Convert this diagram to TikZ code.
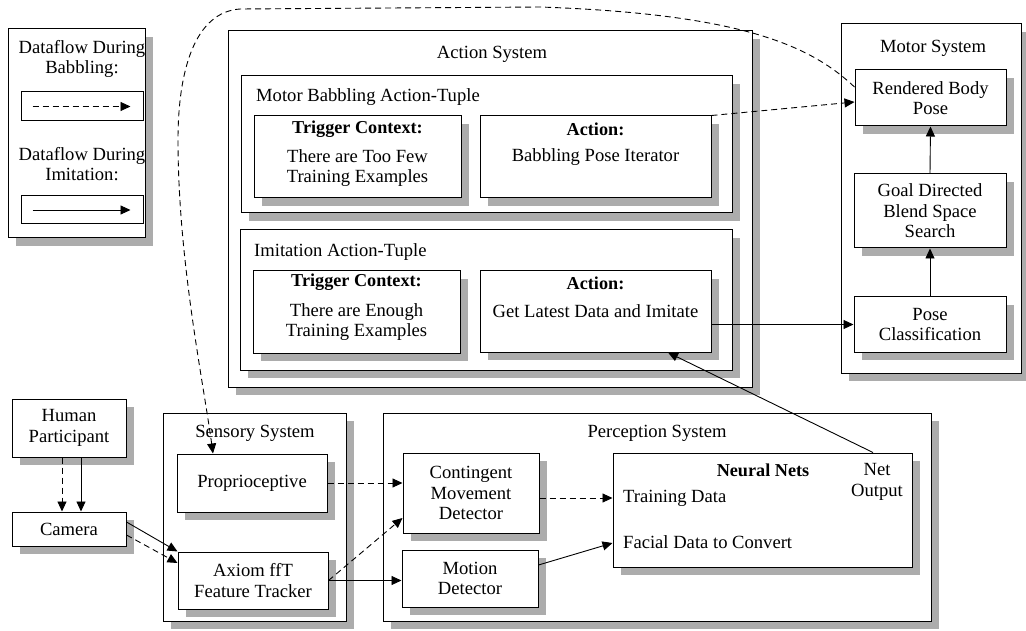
\documentclass[tikz,border=0pt]{standalone}
\usepackage{fontspec}
\setmainfont{Liberation Serif}
\usetikzlibrary{arrows.meta}
\definecolor{shadowgrey}{RGB}{172,172,172}
% a framed box with a flat grey drop shadow: name, cx, cy, width, height, text
\newcommand{\shbox}[6]{%
  \fill[shadowc] ({#2-#4/2+8},{#3-#5/2+8}) rectangle ({#2+#4/2+8},{#3+#5/2+8});
  \node[plainbox, minimum width=#4pt, minimum height=#5pt] (#1) at (#2,#3) {#6};}
\begin{document}
\begin{tikzpicture}[x=1pt,y=-1pt,
  font=\fontsize{18.6}{20.5}\selectfont,
  plainbox/.style={draw, fill=white, line width=1pt, inner sep=0pt, align=center},
  shadowc/.style={fill=shadowgrey},
  lbl/.style={inner sep=0pt, align=center},
  head/.style={inner sep=0pt, font=\fontsize{18.2}{20}\selectfont\bfseries},
  flow/.style={line width=0.9pt, -{Triangle[length=10pt,width=9pt]}},
  babble/.style={flow, dash pattern=on 6pt off 4pt},
]
\useasboundingbox (0,0) rectangle (1026,631);

% ---- legend ----
\shbox{legend}{76.5}{133.5}{137}{209}{}
\node[lbl] (legtxtA) at (82,59) {Dataflow During\\Babbling:};
\node[plainbox, minimum width=122pt, minimum height=29pt] (legA) at (82,106.5) {};
\node[lbl] (legtxtB) at (82,164) {Dataflow During\\Imitation:};
\node[plainbox, minimum width=122pt, minimum height=28pt] (legB) at (82,210) {};
\draw[babble] ([xshift=12pt]legA.west) -- ([xshift=-13pt]legA.east);
\draw[flow] ([xshift=12pt]legB.west) -- ([xshift=-13pt]legB.east);

% ---- action system ----
\shbox{actsys}{490}{209}{524}{356}{}
\node[lbl] (actsystitle) at (492,54) {Action System};

\shbox{babtuple}{486.5}{144.5}{491}{137}{}
\node[lbl, anchor=west] (babtitle) at (256,97) {Motor Babbling Action-Tuple};
\shbox{trigA}{357.5}{157}{207}{82}{}
\node[head] (trigAhead) at (357.5,129) {Trigger Context:};
\node[lbl] (trigAtxt) at (357.5,168) {There are Too Few\\Training Examples};
\shbox{actA}{595.5}{157}{231}{82}{}
\node[head] (actAhead) at (595.5,129) {Action:};
\node[lbl] (actAtxt) at (595.5,157) {Babbling Pose Iterator};

\shbox{imituple}{486}{300}{492}{140}{}
\node[lbl, anchor=west] (imititle) at (254,252) {Imitation Action-Tuple};
\shbox{trigB}{356.5}{312}{207}{82}{}
\node[head] (trigBhead) at (356.5,282) {Trigger Context:};
\node[lbl] (trigBtxt) at (356.5,322) {There are Enough\\Training Examples};
\shbox{actB}{595.5}{311.5}{231}{81}{}
\node[head] (actBhead) at (595.5,283) {Action:};
\node[lbl] (actBtxt) at (595.5,311) {Get Latest Data and Imitate};

% ---- motor system ----
\shbox{motor}{931}{198.5}{180}{349}{}
\node[lbl] (motortitle) at (933,48) {Motor System};
\shbox{rbp}{930.5}{98}{151}{56}{Rendered Body\\Pose}
\shbox{goal}{930}{211}{152}{74}{Goal Directed\\Blend Space\\Search}
\shbox{pose}{930}{324.5}{152}{55}{Pose\\Classification}

% ---- participant and camera ----
\shbox{human}{69}{428}{114}{58}{Human\\Participant}
\shbox{camera}{69}{529}{114}{34}{Camera}

% ---- sensory system ----
\shbox{sensory}{254.5}{517}{183}{208}{}
\node[lbl] (senstitle) at (255,433) {Sensory System};
\shbox{proprio}{252}{483}{150}{58}{Proprioceptive}
\shbox{axiom}{253}{580.5}{150}{57}{Axiom ffT\\Feature Tracker}

% ---- perception system ----
\shbox{percep}{657}{517}{548}{208}{}
\node[lbl] (perctitle) at (657,433) {Perception System};
\shbox{conting}{471}{493}{136}{80}{Contingent\\Movement\\Detector}
\shbox{motion}{470}{578.5}{136}{57}{Motion\\Detector}
\shbox{neural}{762.5}{510}{299}{114}{}
\node[head] (nnhead) at (763,470) {Neural Nets};
\node[lbl] (netout) at (877,482) {Net\\Output};
\node[lbl, anchor=west] (traindata) at (623,498) {Training Data};
\node[lbl, anchor=west] (facial) at (623,542) {Facial Data to Convert};

% ---- dataflow ----
\draw[babble] ([xshift=-7pt]human.south) -- ([xshift=-7pt]camera.north);
\draw[flow] ([xshift=12pt]human.south) -- ([xshift=12pt]camera.north);
\draw[flow] ([yshift=7pt]camera.east) -- (axiom.north west);
\draw[babble] ([yshift=-6pt]camera.east) -- ([yshift=17.5pt]axiom.west);

\draw[babble] (proprio.east) -- (conting.west |- proprio.east);
\draw[babble] (axiom.east) -- ([yshift=-25pt]conting.west);
\draw[flow] (axiom.east) -- (motion.west |- axiom.east);
\coordinate (contout) at ([yshift=-5pt]conting.east);
\draw[babble] (contout) -- (neural.west |- contout);
\draw[flow] ([yshift=13.5pt]motion.east) -- ([yshift=-33pt]neural.west);

\draw[flow] ([xshift=110.5pt]neural.north) -- ([xshift=72.5pt]actB.south);
\draw[flow] (actB.east |- pose.west) -- (pose.west);
\draw[flow] (pose.north) -- (goal.south);
\draw[flow] (goal.north) -- (rbp.south);
\draw[babble] (actA.north east) -- ([yshift=-4pt]rbp.west);

% proprioceptive feedback loop over the top
\coordinate (loopA) at (540,7);
\coordinate (loopB) at (240,9);
\coordinate (loopC) at (178,140);
\draw[babble] ([yshift=11pt]rbp.west) .. controls (810,45) and (740,14) .. (loopA)
  -- (loopB) .. controls (195,12) and (178,70) .. (loopC)
  .. controls (178,260) and (203,380) .. ([xshift=-39pt]proprio.north);
\end{tikzpicture}
\end{document}
